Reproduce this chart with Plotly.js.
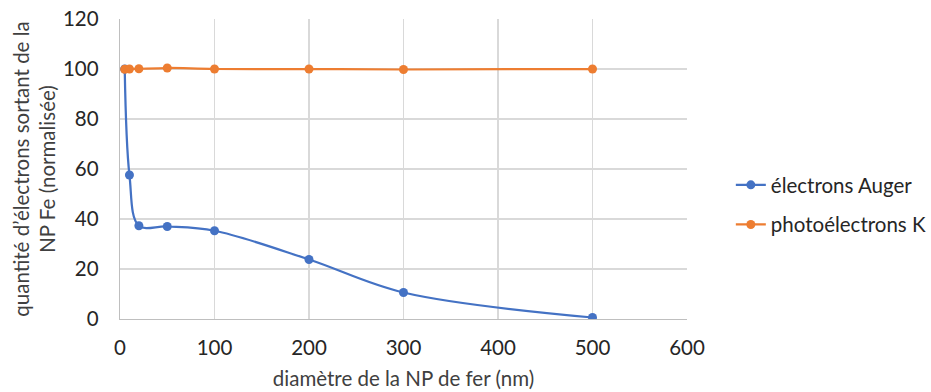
<!DOCTYPE html>
<html><head><meta charset="utf-8">
<script src="https://cdn.plot.ly/plotly-3.0.1.min.js"></script>
<style>body{margin:0;background:#fff}#c{width:931px;height:392px}</style>
</head><body><div id="c"></div>
<script>
const diametres = [5, 10, 20, 50, 100, 200, 300, 500];
const auger = [100, 57.6, 37.3, 37.0, 35.3, 23.8, 10.6, 0.6];
const photoK = [99.9, 100.0, 100.1, 100.4, 100.0, 100.0, 99.8, 100.0];
const seriesNames = ["électrons Auger", "photoélectrons K"];
const xTicks = [0, 100, 200, 300, 400, 500, 600];
const yTicks = [0, 20, 40, 60, 80, 100, 120];

const font = "Lato, 'Open Sans', sans-serif";
const fs = 20.5;
const traces = [
  {x: diametres, y: auger, name: seriesNames[0], mode: "lines+markers", legendgroup: "a",
   line: {color: "#4472C4", width: 2.25, shape: "spline", smoothing: 1},
   marker: {color: "#4472C4", size: 9}},
  {x: diametres, y: photoK, name: seriesNames[1], mode: "lines+markers", legendgroup: "b",
   line: {color: "#ED7D31", width: 2.25, shape: "spline", smoothing: 1},
   marker: {color: "#ED7D31", size: 9}}
];
const layout = {
  width: 931, height: 392,
  margin: {l: 120, r: 244, t: 19, b: 73},
  paper_bgcolor: "#fff", plot_bgcolor: "#fff",
  font: {family: font, size: fs, color: "#404040"},
  showlegend: true,
  legend: {xref: "container", yref: "container", x: 0.785, xanchor: "left", y: 0.477, yanchor: "middle",
    font: {family: font, size: fs, color: "#262626"},
    traceorder: "grouped", tracegroupgap: 10, itemwidth: 30},
  xaxis: {range: [0, 600], tickvals: xTicks, ticktext: xTicks.map(String),
    showgrid: true, gridcolor: "#D9D9D9", gridwidth: 1.3, zeroline: false,
    showline: true, linecolor: "#BFBFBF", linewidth: 1.3, ticks: "",
    tickfont: {size: fs, color: "#262626"}, ticklabelstandoff: 10,
    title: {text: "diamètre de la NP de fer (nm)", font: {size: fs, color: "#404040"}, standoff: 13}},
  yaxis: {range: [0, 120], tickvals: yTicks, ticktext: yTicks.map(String),
    showgrid: true, gridcolor: "#D9D9D9", gridwidth: 1.3, zeroline: false,
    showline: true, linecolor: "#BFBFBF", linewidth: 1.3, ticks: "",
    tickfont: {size: fs, color: "#262626"}, ticklabelstandoff: 16,
    title: {text: "quantité d’électrons sortant de la<br>NP Fe (normalisée)", font: {size: fs, color: "#404040"}, standoff: 1}}
};
Plotly.newPlot("c", traces, layout, {displayModeBar: false, staticPlot: true});
</script></body></html>
